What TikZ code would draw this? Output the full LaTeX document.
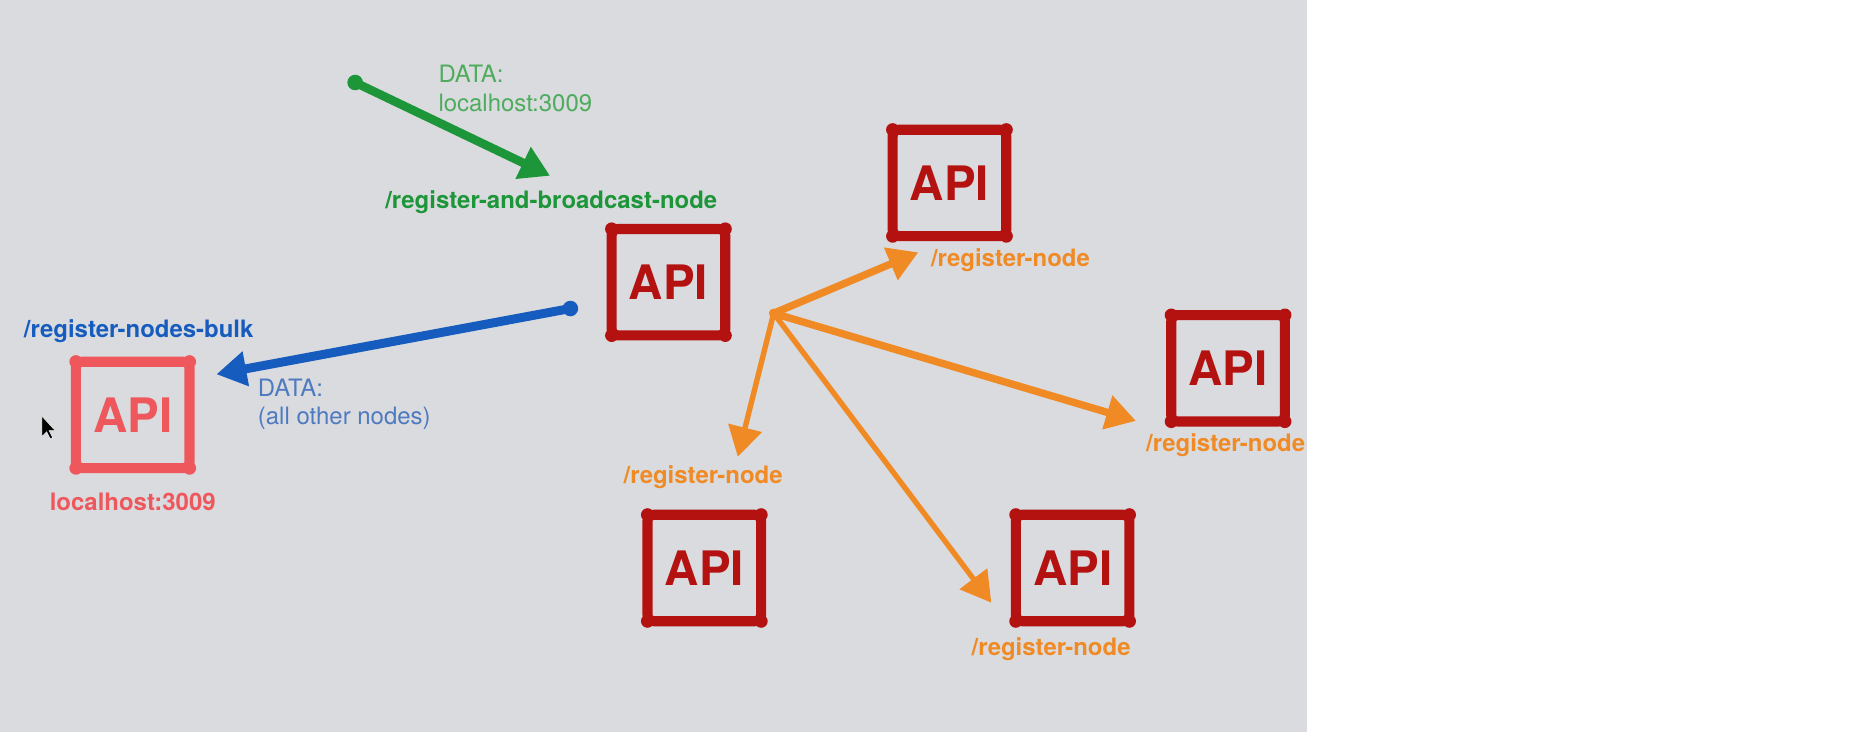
\documentclass[tikz,border=0pt]{standalone}
\usepackage{fontspec}
\setmainfont{TeX Gyre Heros}
\usetikzlibrary{arrows.meta}
\definecolor{bggray}{RGB}{218,219,223}
\definecolor{apired}{RGB}{180,17,17}
\definecolor{localred}{RGB}{238,88,92}
\definecolor{bcastgreen}{RGB}{28,150,56}
\definecolor{datagreen}{RGB}{78,172,92}
\definecolor{bulkblue}{RGB}{22,92,190}
\definecolor{datablue}{RGB}{78,122,192}
\definecolor{regorange}{RGB}{240,138,36}

\begin{document}
\begin{tikzpicture}[x=0.1mm,y=-0.1mm]
\tikzstyle{api} = [rectangle, draw=apired, line width=2.4pt, rounded corners=1.5pt, outer sep=0,
minimum width=9.5mm, minimum height=8.9mm, inner sep=0, text=apired, font=\fontsize{11.3}{13}\selectfont\bfseries]
\tikzstyle{lbl} = [inner sep=0, font=\fontsize{5.7}{6.8}\selectfont\bfseries]
\tikzstyle{note} = [inner sep=0, align=left, anchor=west, font=\fontsize{5.7}{6.8}\selectfont]
\tikzstyle{dot} = [circle, inner sep=0, minimum size=1.3mm]
\tikzstyle{line} = [draw, line cap=round, -{Triangle[length=2.5mm,width=2.8mm]}]
\useasboundingbox (0,0) rectangle (1568,632);
\fill[white] (0,0) rectangle (1568,632);
\fill[bggray] (0,0) rectangle (1093,612);
% boxes
\node [api] (main) at (559,236) {API};
\node [api] (top) at (794,153) {API};
\node [api] (right) at (1027,308) {API};
\node [api] (botl) at (589,475) {API};
\node [api] (botr) at (897,475) {API};
\node [api, draw=localred, text=localred] (local) at (111,347) {API};
\foreach \b in {main,top,right,botl,botr}
  \foreach \c in {north west,north east,south west,south east}
    \fill[apired] (\b.\c) circle (0.55mm);
\foreach \c in {north west,north east,south west,south east}
  \fill[localred] (local.\c) circle (0.55mm);
% labels
\node [note, text=datagreen] (gdata) at (366,74) {DATA:\\localhost:3009};
\node [lbl, text=bcastgreen] (bcast) at (461,169) {/register-and-broadcast-node};
\node [lbl, text=bulkblue] (bulk) at (116,277) {/register-nodes-bulk};
\node [note, text=datablue] (bdata) at (215,338) {DATA:\\(all other nodes)};
\node [lbl, text=localred] (lhost) at (111,420) {localhost:3009};
\node [lbl, text=regorange] (reg1) at (845,218) {/register-node};
\node [lbl, text=regorange] (reg2) at (1025,372) {/register-node};
\node [lbl, text=regorange] (reg3) at (588,399) {/register-node};
\node [lbl, text=regorange] (reg4) at (879,543) {/register-node};
% arrows
\node [dot, fill=bcastgreen] (gdot) at (297,69) {};
\coordinate (gtip) at (460,147);
\path [line, bcastgreen, line width=0.72mm] (gdot.center) -- (gtip);
\node [dot, fill=bulkblue] (bdot) at (477,258) {};
\coordinate (btip) at (181,313);
\path [line, bulkblue, line width=0.75mm] (bdot.center) -- (btip);
\coordinate (hub) at (647,262);
\coordinate (t1) at (768,211);
\coordinate (t2) at (950,352);
\coordinate (t3) at (617,382);
\coordinate (t4) at (829,504);
\path [line, regorange, line width=0.62mm] (hub) -- (t1);
\path [line, regorange, line width=0.62mm] (hub) -- (t2);
\path [line, regorange, line width=0.45mm] (hub) -- (t3);
\path [line, regorange, line width=0.45mm] (hub) -- (t4);
\fill[regorange] (hub) circle (0.4mm);
% cursor
\filldraw[black, draw=white, line width=0.1pt] (35,348) -- (35,365) -- (39,361) -- (42,367) -- (44,366) -- (41,360) -- (46,360) -- cycle;
\end{tikzpicture}
\end{document}
